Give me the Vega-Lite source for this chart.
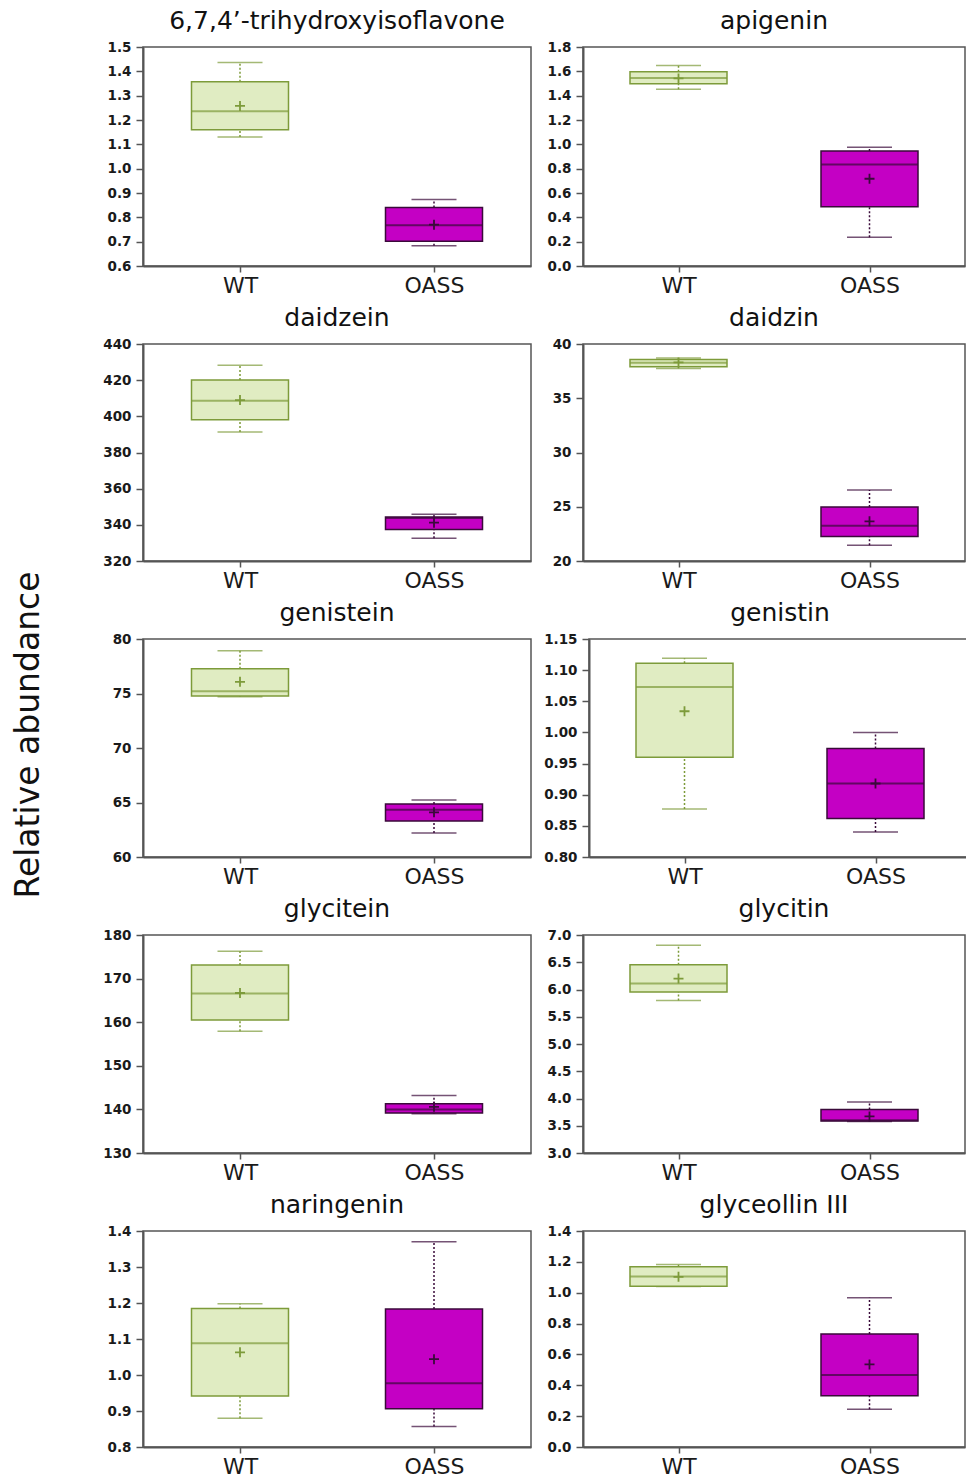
{
  "$schema": "https://vega.github.io/schema/vega-lite/v6.json",
  "background": "white",
  "padding": {"left": 13, "top": 8, "right": 0, "bottom": 0},
  "spacing": 8,
  "title": {"text": "Relative abundance", "orient": "left", "anchor": "middle", "font": "DejaVu Sans", "fontSize": 33, "fontWeight": "normal", "color": "#111", "offset": 56, "dx": 8},
  "datasets": {
    "stats": [
      {"compound": "6,7,4’-trihydroxyisoflavone", "group": "WT", "lower": 1.13, "q1": 1.16, "median": 1.236, "q3": 1.357, "upper": 1.436, "mean": 1.258},
      {"compound": "6,7,4’-trihydroxyisoflavone", "group": "OASS", "lower": 0.683, "q1": 0.702, "median": 0.767, "q3": 0.84, "upper": 0.873, "mean": 0.77},
      {"compound": "apigenin", "group": "WT", "lower": 1.453, "q1": 1.497, "median": 1.546, "q3": 1.596, "upper": 1.648, "mean": 1.542},
      {"compound": "apigenin", "group": "OASS", "lower": 0.237, "q1": 0.488, "median": 0.835, "q3": 0.945, "upper": 0.976, "mean": 0.717},
      {"compound": "daidzein", "group": "WT", "lower": 391.3, "q1": 398.1, "median": 408.6, "q3": 420.1, "upper": 428.2, "mean": 409.0},
      {"compound": "daidzein", "group": "OASS", "lower": 332.6, "q1": 337.4, "median": 343.8, "q3": 344.4, "upper": 345.9, "mean": 341.2},
      {"compound": "daidzin", "group": "WT", "lower": 37.75, "q1": 37.9, "median": 38.28, "q3": 38.58, "upper": 38.71, "mean": 38.3},
      {"compound": "daidzin", "group": "OASS", "lower": 21.45, "q1": 22.25, "median": 23.26, "q3": 24.98, "upper": 26.55, "mean": 23.66},
      {"compound": "genistein", "group": "WT", "lower": 74.7, "q1": 74.78, "median": 75.21, "q3": 77.27, "upper": 78.92, "mean": 76.07},
      {"compound": "genistein", "group": "OASS", "lower": 62.2, "q1": 63.3, "median": 64.34, "q3": 64.86, "upper": 65.23, "mean": 64.1},
      {"compound": "genistin", "group": "WT", "lower": 0.877, "q1": 0.96, "median": 1.073, "q3": 1.111, "upper": 1.119, "mean": 1.034},
      {"compound": "genistin", "group": "OASS", "lower": 0.84, "q1": 0.862, "median": 0.918, "q3": 0.974, "upper": 1.0, "mean": 0.918},
      {"compound": "glycitein", "group": "WT", "lower": 157.9, "q1": 160.5, "median": 166.6, "q3": 173.1, "upper": 176.3, "mean": 166.7},
      {"compound": "glycitein", "group": "OASS", "lower": 139.0, "q1": 139.2, "median": 140.0, "q3": 141.3, "upper": 143.2, "mean": 140.6},
      {"compound": "glycitin", "group": "WT", "lower": 5.797, "q1": 5.956, "median": 6.108, "q3": 6.456, "upper": 6.81, "mean": 6.2},
      {"compound": "glycitin", "group": "OASS", "lower": 3.58, "q1": 3.585, "median": 3.6, "q3": 3.8, "upper": 3.934, "mean": 3.672},
      {"compound": "naringenin", "group": "WT", "lower": 0.88, "q1": 0.942, "median": 1.088, "q3": 1.185, "upper": 1.198, "mean": 1.063},
      {"compound": "naringenin", "group": "OASS", "lower": 0.857, "q1": 0.906, "median": 0.977, "q3": 1.183, "upper": 1.37, "mean": 1.044},
      {"compound": "glyceollin III", "group": "WT", "lower": 1.04, "q1": 1.042, "median": 1.105, "q3": 1.168, "upper": 1.183, "mean": 1.103},
      {"compound": "glyceollin III", "group": "OASS", "lower": 0.245, "q1": 0.332, "median": 0.466, "q3": 0.733, "upper": 0.967, "mean": 0.535}
    ]
  },
  "config": {
    "font": "DejaVu Sans",
    "view": {"stroke": "#555", "strokeWidth": 1.5},
    "title": {"font": "DejaVu Sans", "fontSize": 25, "fontWeight": "normal", "color": "#111", "anchor": "middle", "offset": 6},
    "axis": {"grid": false, "domainColor": "#555", "domainWidth": 2, "tickColor": "#555", "tickWidth": 1.5, "labelFont": "DejaVu Sans", "labelColor": "#1a1a1a", "labelOverlap": false},
    "axisY": {"labelFontWeight": "bold", "labelFontSize": 13.5, "tickSize": 7, "labelPadding": 5, "minExtent": 40, "maxExtent": 40, "labelOverlap": false, "tickCount": 20},
    "axisX": {"labelFontSize": 22, "labelAngle": 0, "tickSize": 6, "labelPadding": 3}
  },
  "vconcat": [
    {"spacing": 10, "hconcat": [
      {"title": "6,7,4’-trihydroxyisoflavone", "width": 388, "height": 219, "data": {"name": "stats"},
       "transform": [{"filter": {"field": "compound", "equal": "6,7,4’-trihydroxyisoflavone"}}],
       "encoding": {"x": {"field": "group", "type": "nominal", "sort": ["WT", "OASS"], "scale": {"type": "point", "padding": 0.5}, "title": null}},
       "layer": [
        {"mark": {"type": "rule", "strokeDash": [2, 2], "strokeWidth": 1.5}, "encoding": {"y": {"field": "lower", "type": "quantitative", "title": null, "scale": {"domain": [0.6, 1.5], "nice": false, "zero": false}, "axis": {"values": [0.6, 0.7, 0.8, 0.9, 1.0, 1.1, 1.2, 1.3, 1.4, 1.5], "tickCount": 20, "format": ".1f"}}, "y2": {"field": "q1"}, "color": {"field": "group", "type": "nominal", "scale": {"domain": ["WT", "OASS"], "range": ["#7d9b3a", "#3a0a3a"]}, "legend": null}}},
        {"mark": {"type": "rule", "strokeDash": [2, 2], "strokeWidth": 1.5}, "encoding": {"y": {"field": "q3", "type": "quantitative", "title": null}, "y2": {"field": "upper"}, "color": {"field": "group", "type": "nominal", "legend": null}}},
        {"mark": {"type": "tick", "size": 45, "thickness": 1.5}, "encoding": {"y": {"field": "lower", "type": "quantitative", "title": null}, "color": {"field": "group", "type": "nominal", "legend": null}}},
        {"mark": {"type": "tick", "size": 45, "thickness": 1.5}, "encoding": {"y": {"field": "upper", "type": "quantitative", "title": null}, "color": {"field": "group", "type": "nominal", "legend": null}}},
        {"mark": {"type": "bar", "size": 97, "strokeWidth": 1.5}, "encoding": {"y": {"field": "q1", "type": "quantitative", "title": null}, "y2": {"field": "q3"}, "fill": {"field": "group", "type": "nominal", "scale": {"domain": ["WT", "OASS"], "range": ["#e0ecc2", "#c400c4"]}, "legend": null}, "stroke": {"field": "group", "type": "nominal", "scale": {"domain": ["WT", "OASS"], "range": ["#7d9b3a", "#3a0a3a"]}, "legend": null}}},
        {"mark": {"type": "tick", "size": 97, "thickness": 2}, "encoding": {"y": {"field": "median", "type": "quantitative", "title": null}, "color": {"field": "group", "type": "nominal", "legend": null}}},
        {"mark": {"type": "point", "shape": "M-1,0H1M0,-1V1", "size": 100, "filled": false, "strokeWidth": 1.8, "opacity": 1}, "encoding": {"y": {"field": "mean", "type": "quantitative", "title": null}, "color": {"field": "group", "type": "nominal", "legend": null}}}
       ]},
      {"title": "apigenin", "width": 382, "height": 219, "data": {"name": "stats"},
       "transform": [{"filter": {"field": "compound", "equal": "apigenin"}}],
       "encoding": {"x": {"field": "group", "type": "nominal", "sort": ["WT", "OASS"], "scale": {"type": "point", "padding": 0.5}, "title": null}},
       "layer": [
        {"mark": {"type": "rule", "strokeDash": [2, 2], "strokeWidth": 1.5}, "encoding": {"y": {"field": "lower", "type": "quantitative", "title": null, "scale": {"domain": [0, 1.8], "nice": false, "zero": false}, "axis": {"values": [0, 0.2, 0.4, 0.6, 0.8, 1.0, 1.2, 1.4, 1.6, 1.8], "tickCount": 20, "format": ".1f"}}, "y2": {"field": "q1"}, "color": {"field": "group", "type": "nominal", "scale": {"domain": ["WT", "OASS"], "range": ["#7d9b3a", "#3a0a3a"]}, "legend": null}}},
        {"mark": {"type": "rule", "strokeDash": [2, 2], "strokeWidth": 1.5}, "encoding": {"y": {"field": "q3", "type": "quantitative", "title": null}, "y2": {"field": "upper"}, "color": {"field": "group", "type": "nominal", "legend": null}}},
        {"mark": {"type": "tick", "size": 45, "thickness": 1.5}, "encoding": {"y": {"field": "lower", "type": "quantitative", "title": null}, "color": {"field": "group", "type": "nominal", "legend": null}}},
        {"mark": {"type": "tick", "size": 45, "thickness": 1.5}, "encoding": {"y": {"field": "upper", "type": "quantitative", "title": null}, "color": {"field": "group", "type": "nominal", "legend": null}}},
        {"mark": {"type": "bar", "size": 97, "strokeWidth": 1.5}, "encoding": {"y": {"field": "q1", "type": "quantitative", "title": null}, "y2": {"field": "q3"}, "fill": {"field": "group", "type": "nominal", "scale": {"domain": ["WT", "OASS"], "range": ["#d6e4b6", "#c400c4"]}, "legend": null}, "stroke": {"field": "group", "type": "nominal", "scale": {"domain": ["WT", "OASS"], "range": ["#7d9b3a", "#3a0a3a"]}, "legend": null}}},
        {"mark": {"type": "tick", "size": 97, "thickness": 2}, "encoding": {"y": {"field": "median", "type": "quantitative", "title": null}, "color": {"field": "group", "type": "nominal", "legend": null}}},
        {"mark": {"type": "point", "shape": "M-1,0H1M0,-1V1", "size": 100, "filled": false, "strokeWidth": 1.8, "opacity": 1}, "encoding": {"y": {"field": "mean", "type": "quantitative", "title": null}, "color": {"field": "group", "type": "nominal", "legend": null}}}
       ]}
    ]},
    {"spacing": 10, "hconcat": [
      {"title": "daidzein", "width": 388, "height": 217, "data": {"name": "stats"},
       "transform": [{"filter": {"field": "compound", "equal": "daidzein"}}],
       "encoding": {"x": {"field": "group", "type": "nominal", "sort": ["WT", "OASS"], "scale": {"type": "point", "padding": 0.5}, "title": null}},
       "layer": [
        {"mark": {"type": "rule", "strokeDash": [2, 2], "strokeWidth": 1.5}, "encoding": {"y": {"field": "lower", "type": "quantitative", "title": null, "scale": {"domain": [320, 440], "nice": false, "zero": false}, "axis": {"values": [320, 340, 360, 380, 400, 420, 440], "tickCount": 20, "format": "d"}}, "y2": {"field": "q1"}, "color": {"field": "group", "type": "nominal", "scale": {"domain": ["WT", "OASS"], "range": ["#7d9b3a", "#3a0a3a"]}, "legend": null}}},
        {"mark": {"type": "rule", "strokeDash": [2, 2], "strokeWidth": 1.5}, "encoding": {"y": {"field": "q3", "type": "quantitative", "title": null}, "y2": {"field": "upper"}, "color": {"field": "group", "type": "nominal", "legend": null}}},
        {"mark": {"type": "tick", "size": 45, "thickness": 1.5}, "encoding": {"y": {"field": "lower", "type": "quantitative", "title": null}, "color": {"field": "group", "type": "nominal", "legend": null}}},
        {"mark": {"type": "tick", "size": 45, "thickness": 1.5}, "encoding": {"y": {"field": "upper", "type": "quantitative", "title": null}, "color": {"field": "group", "type": "nominal", "legend": null}}},
        {"mark": {"type": "bar", "size": 97, "strokeWidth": 1.5}, "encoding": {"y": {"field": "q1", "type": "quantitative", "title": null}, "y2": {"field": "q3"}, "fill": {"field": "group", "type": "nominal", "scale": {"domain": ["WT", "OASS"], "range": ["#d3dcb3", "#c400c4"]}, "legend": null}, "stroke": {"field": "group", "type": "nominal", "scale": {"domain": ["WT", "OASS"], "range": ["#7d9b3a", "#3a0a3a"]}, "legend": null}}},
        {"mark": {"type": "tick", "size": 97, "thickness": 2}, "encoding": {"y": {"field": "median", "type": "quantitative", "title": null}, "color": {"field": "group", "type": "nominal", "legend": null}}},
        {"mark": {"type": "point", "shape": "M-1,0H1M0,-1V1", "size": 100, "filled": false, "strokeWidth": 1.8, "opacity": 1}, "encoding": {"y": {"field": "mean", "type": "quantitative", "title": null}, "color": {"field": "group", "type": "nominal", "legend": null}}}
       ]},
      {"title": "daidzin", "width": 382, "height": 217, "data": {"name": "stats"},
       "transform": [{"filter": {"field": "compound", "equal": "daidzin"}}],
       "encoding": {"x": {"field": "group", "type": "nominal", "sort": ["WT", "OASS"], "scale": {"type": "point", "padding": 0.5}, "title": null}},
       "layer": [
        {"mark": {"type": "rule", "strokeDash": [2, 2], "strokeWidth": 1.5}, "encoding": {"y": {"field": "lower", "type": "quantitative", "title": null, "scale": {"domain": [20, 40], "nice": false, "zero": false}, "axis": {"values": [20, 25, 30, 35, 40], "tickCount": 20, "format": "d"}}, "y2": {"field": "q1"}, "color": {"field": "group", "type": "nominal", "scale": {"domain": ["WT", "OASS"], "range": ["#7d9b3a", "#3a0a3a"]}, "legend": null}}},
        {"mark": {"type": "rule", "strokeDash": [2, 2], "strokeWidth": 1.5}, "encoding": {"y": {"field": "q3", "type": "quantitative", "title": null}, "y2": {"field": "upper"}, "color": {"field": "group", "type": "nominal", "legend": null}}},
        {"mark": {"type": "tick", "size": 45, "thickness": 1.5}, "encoding": {"y": {"field": "lower", "type": "quantitative", "title": null}, "color": {"field": "group", "type": "nominal", "legend": null}}},
        {"mark": {"type": "tick", "size": 45, "thickness": 1.5}, "encoding": {"y": {"field": "upper", "type": "quantitative", "title": null}, "color": {"field": "group", "type": "nominal", "legend": null}}},
        {"mark": {"type": "bar", "size": 97, "strokeWidth": 1.5}, "encoding": {"y": {"field": "q1", "type": "quantitative", "title": null}, "y2": {"field": "q3"}, "fill": {"field": "group", "type": "nominal", "scale": {"domain": ["WT", "OASS"], "range": ["#cfe0a8", "#c400c4"]}, "legend": null}, "stroke": {"field": "group", "type": "nominal", "scale": {"domain": ["WT", "OASS"], "range": ["#7d9b3a", "#3a0a3a"]}, "legend": null}}},
        {"mark": {"type": "tick", "size": 97, "thickness": 2}, "encoding": {"y": {"field": "median", "type": "quantitative", "title": null}, "color": {"field": "group", "type": "nominal", "legend": null}}},
        {"mark": {"type": "point", "shape": "M-1,0H1M0,-1V1", "size": 100, "filled": false, "strokeWidth": 1.8, "opacity": 1}, "encoding": {"y": {"field": "mean", "type": "quantitative", "title": null}, "color": {"field": "group", "type": "nominal", "legend": null}}}
       ]}
    ]},
    {"spacing": 10, "hconcat": [
      {"title": "genistein", "width": 388, "height": 218, "data": {"name": "stats"},
       "transform": [{"filter": {"field": "compound", "equal": "genistein"}}],
       "encoding": {"x": {"field": "group", "type": "nominal", "sort": ["WT", "OASS"], "scale": {"type": "point", "padding": 0.5}, "title": null}},
       "layer": [
        {"mark": {"type": "rule", "strokeDash": [2, 2], "strokeWidth": 1.5}, "encoding": {"y": {"field": "lower", "type": "quantitative", "title": null, "scale": {"domain": [60, 80], "nice": false, "zero": false}, "axis": {"values": [60, 65, 70, 75, 80], "tickCount": 20, "format": "d"}}, "y2": {"field": "q1"}, "color": {"field": "group", "type": "nominal", "scale": {"domain": ["WT", "OASS"], "range": ["#7d9b3a", "#3a0a3a"]}, "legend": null}}},
        {"mark": {"type": "rule", "strokeDash": [2, 2], "strokeWidth": 1.5}, "encoding": {"y": {"field": "q3", "type": "quantitative", "title": null}, "y2": {"field": "upper"}, "color": {"field": "group", "type": "nominal", "legend": null}}},
        {"mark": {"type": "tick", "size": 45, "thickness": 1.5}, "encoding": {"y": {"field": "lower", "type": "quantitative", "title": null}, "color": {"field": "group", "type": "nominal", "legend": null}}},
        {"mark": {"type": "tick", "size": 45, "thickness": 1.5}, "encoding": {"y": {"field": "upper", "type": "quantitative", "title": null}, "color": {"field": "group", "type": "nominal", "legend": null}}},
        {"mark": {"type": "bar", "size": 97, "strokeWidth": 1.5}, "encoding": {"y": {"field": "q1", "type": "quantitative", "title": null}, "y2": {"field": "q3"}, "fill": {"field": "group", "type": "nominal", "scale": {"domain": ["WT", "OASS"], "range": ["#d4ddb4", "#c400c4"]}, "legend": null}, "stroke": {"field": "group", "type": "nominal", "scale": {"domain": ["WT", "OASS"], "range": ["#7d9b3a", "#3a0a3a"]}, "legend": null}}},
        {"mark": {"type": "tick", "size": 97, "thickness": 2}, "encoding": {"y": {"field": "median", "type": "quantitative", "title": null}, "color": {"field": "group", "type": "nominal", "legend": null}}},
        {"mark": {"type": "point", "shape": "M-1,0H1M0,-1V1", "size": 100, "filled": false, "strokeWidth": 1.8, "opacity": 1}, "encoding": {"y": {"field": "mean", "type": "quantitative", "title": null}, "color": {"field": "group", "type": "nominal", "legend": null}}}
       ]},
      {"title": "genistin", "width": 382, "height": 218, "data": {"name": "stats"},
       "transform": [{"filter": {"field": "compound", "equal": "genistin"}}],
       "encoding": {"x": {"field": "group", "type": "nominal", "sort": ["WT", "OASS"], "scale": {"type": "point", "padding": 0.5}, "title": null}},
       "layer": [
        {"mark": {"type": "rule", "strokeDash": [2, 2], "strokeWidth": 1.5}, "encoding": {"y": {"field": "lower", "type": "quantitative", "title": null, "scale": {"domain": [0.8, 1.15], "nice": false, "zero": false}, "axis": {"values": [0.8, 0.85, 0.9, 0.95, 1.0, 1.05, 1.1, 1.15], "tickCount": 20, "format": ".2f"}}, "y2": {"field": "q1"}, "color": {"field": "group", "type": "nominal", "scale": {"domain": ["WT", "OASS"], "range": ["#7d9b3a", "#3a0a3a"]}, "legend": null}}},
        {"mark": {"type": "rule", "strokeDash": [2, 2], "strokeWidth": 1.5}, "encoding": {"y": {"field": "q3", "type": "quantitative", "title": null}, "y2": {"field": "upper"}, "color": {"field": "group", "type": "nominal", "legend": null}}},
        {"mark": {"type": "tick", "size": 45, "thickness": 1.5}, "encoding": {"y": {"field": "lower", "type": "quantitative", "title": null}, "color": {"field": "group", "type": "nominal", "legend": null}}},
        {"mark": {"type": "tick", "size": 45, "thickness": 1.5}, "encoding": {"y": {"field": "upper", "type": "quantitative", "title": null}, "color": {"field": "group", "type": "nominal", "legend": null}}},
        {"mark": {"type": "bar", "size": 97, "strokeWidth": 1.5}, "encoding": {"y": {"field": "q1", "type": "quantitative", "title": null}, "y2": {"field": "q3"}, "fill": {"field": "group", "type": "nominal", "scale": {"domain": ["WT", "OASS"], "range": ["#d3dbb3", "#c400c4"]}, "legend": null}, "stroke": {"field": "group", "type": "nominal", "scale": {"domain": ["WT", "OASS"], "range": ["#7d9b3a", "#3a0a3a"]}, "legend": null}}},
        {"mark": {"type": "tick", "size": 97, "thickness": 2}, "encoding": {"y": {"field": "median", "type": "quantitative", "title": null}, "color": {"field": "group", "type": "nominal", "legend": null}}},
        {"mark": {"type": "point", "shape": "M-1,0H1M0,-1V1", "size": 100, "filled": false, "strokeWidth": 1.8, "opacity": 1}, "encoding": {"y": {"field": "mean", "type": "quantitative", "title": null}, "color": {"field": "group", "type": "nominal", "legend": null}}}
       ]}
    ]},
    {"spacing": 10, "hconcat": [
      {"title": "glycitein", "width": 388, "height": 218, "data": {"name": "stats"},
       "transform": [{"filter": {"field": "compound", "equal": "glycitein"}}],
       "encoding": {"x": {"field": "group", "type": "nominal", "sort": ["WT", "OASS"], "scale": {"type": "point", "padding": 0.5}, "title": null}},
       "layer": [
        {"mark": {"type": "rule", "strokeDash": [2, 2], "strokeWidth": 1.5}, "encoding": {"y": {"field": "lower", "type": "quantitative", "title": null, "scale": {"domain": [130, 180], "nice": false, "zero": false}, "axis": {"values": [130, 140, 150, 160, 170, 180], "tickCount": 20, "format": "d"}}, "y2": {"field": "q1"}, "color": {"field": "group", "type": "nominal", "scale": {"domain": ["WT", "OASS"], "range": ["#7d9b3a", "#3a0a3a"]}, "legend": null}}},
        {"mark": {"type": "rule", "strokeDash": [2, 2], "strokeWidth": 1.5}, "encoding": {"y": {"field": "q3", "type": "quantitative", "title": null}, "y2": {"field": "upper"}, "color": {"field": "group", "type": "nominal", "legend": null}}},
        {"mark": {"type": "tick", "size": 45, "thickness": 1.5}, "encoding": {"y": {"field": "lower", "type": "quantitative", "title": null}, "color": {"field": "group", "type": "nominal", "legend": null}}},
        {"mark": {"type": "tick", "size": 45, "thickness": 1.5}, "encoding": {"y": {"field": "upper", "type": "quantitative", "title": null}, "color": {"field": "group", "type": "nominal", "legend": null}}},
        {"mark": {"type": "bar", "size": 97, "strokeWidth": 1.5}, "encoding": {"y": {"field": "q1", "type": "quantitative", "title": null}, "y2": {"field": "q3"}, "fill": {"field": "group", "type": "nominal", "scale": {"domain": ["WT", "OASS"], "range": ["#d1daae", "#c400c4"]}, "legend": null}, "stroke": {"field": "group", "type": "nominal", "scale": {"domain": ["WT", "OASS"], "range": ["#7d9b3a", "#3a0a3a"]}, "legend": null}}},
        {"mark": {"type": "tick", "size": 97, "thickness": 2}, "encoding": {"y": {"field": "median", "type": "quantitative", "title": null}, "color": {"field": "group", "type": "nominal", "legend": null}}},
        {"mark": {"type": "point", "shape": "M-1,0H1M0,-1V1", "size": 100, "filled": false, "strokeWidth": 1.8, "opacity": 1}, "encoding": {"y": {"field": "mean", "type": "quantitative", "title": null}, "color": {"field": "group", "type": "nominal", "legend": null}}}
       ]},
      {"title": {"text": "glycitin", "dx": 10}, "width": 382, "height": 218, "data": {"name": "stats"},
       "transform": [{"filter": {"field": "compound", "equal": "glycitin"}}],
       "encoding": {"x": {"field": "group", "type": "nominal", "sort": ["WT", "OASS"], "scale": {"type": "point", "padding": 0.5}, "title": null}},
       "layer": [
        {"mark": {"type": "rule", "strokeDash": [2, 2], "strokeWidth": 1.5}, "encoding": {"y": {"field": "lower", "type": "quantitative", "title": null, "scale": {"domain": [3, 7], "nice": false, "zero": false}, "axis": {"values": [3, 3.5, 4, 4.5, 5, 5.5, 6, 6.5, 7], "tickCount": 20, "format": ".1f"}}, "y2": {"field": "q1"}, "color": {"field": "group", "type": "nominal", "scale": {"domain": ["WT", "OASS"], "range": ["#7d9b3a", "#3a0a3a"]}, "legend": null}}},
        {"mark": {"type": "rule", "strokeDash": [2, 2], "strokeWidth": 1.5}, "encoding": {"y": {"field": "q3", "type": "quantitative", "title": null}, "y2": {"field": "upper"}, "color": {"field": "group", "type": "nominal", "legend": null}}},
        {"mark": {"type": "tick", "size": 45, "thickness": 1.5}, "encoding": {"y": {"field": "lower", "type": "quantitative", "title": null}, "color": {"field": "group", "type": "nominal", "legend": null}}},
        {"mark": {"type": "tick", "size": 45, "thickness": 1.5}, "encoding": {"y": {"field": "upper", "type": "quantitative", "title": null}, "color": {"field": "group", "type": "nominal", "legend": null}}},
        {"mark": {"type": "bar", "size": 97, "strokeWidth": 1.5}, "encoding": {"y": {"field": "q1", "type": "quantitative", "title": null}, "y2": {"field": "q3"}, "fill": {"field": "group", "type": "nominal", "scale": {"domain": ["WT", "OASS"], "range": ["#d3dcb3", "#c400c4"]}, "legend": null}, "stroke": {"field": "group", "type": "nominal", "scale": {"domain": ["WT", "OASS"], "range": ["#7d9b3a", "#3a0a3a"]}, "legend": null}}},
        {"mark": {"type": "tick", "size": 97, "thickness": 2}, "encoding": {"y": {"field": "median", "type": "quantitative", "title": null}, "color": {"field": "group", "type": "nominal", "legend": null}}},
        {"mark": {"type": "point", "shape": "M-1,0H1M0,-1V1", "size": 100, "filled": false, "strokeWidth": 1.8, "opacity": 1}, "encoding": {"y": {"field": "mean", "type": "quantitative", "title": null}, "color": {"field": "group", "type": "nominal", "legend": null}}}
       ]}
    ]},
    {"spacing": 10, "hconcat": [
      {"title": "naringenin", "width": 388, "height": 216, "data": {"name": "stats"},
       "transform": [{"filter": {"field": "compound", "equal": "naringenin"}}],
       "encoding": {"x": {"field": "group", "type": "nominal", "sort": ["WT", "OASS"], "scale": {"type": "point", "padding": 0.5}, "title": null}},
       "layer": [
        {"mark": {"type": "rule", "strokeDash": [2, 2], "strokeWidth": 1.5}, "encoding": {"y": {"field": "lower", "type": "quantitative", "title": null, "scale": {"domain": [0.8, 1.4], "nice": false, "zero": false}, "axis": {"values": [0.8, 0.9, 1.0, 1.1, 1.2, 1.3, 1.4], "tickCount": 20, "format": ".1f"}}, "y2": {"field": "q1"}, "color": {"field": "group", "type": "nominal", "scale": {"domain": ["WT", "OASS"], "range": ["#7d9b3a", "#3a0a3a"]}, "legend": null}}},
        {"mark": {"type": "rule", "strokeDash": [2, 2], "strokeWidth": 1.5}, "encoding": {"y": {"field": "q3", "type": "quantitative", "title": null}, "y2": {"field": "upper"}, "color": {"field": "group", "type": "nominal", "legend": null}}},
        {"mark": {"type": "tick", "size": 45, "thickness": 1.5}, "encoding": {"y": {"field": "lower", "type": "quantitative", "title": null}, "color": {"field": "group", "type": "nominal", "legend": null}}},
        {"mark": {"type": "tick", "size": 45, "thickness": 1.5}, "encoding": {"y": {"field": "upper", "type": "quantitative", "title": null}, "color": {"field": "group", "type": "nominal", "legend": null}}},
        {"mark": {"type": "bar", "size": 97, "strokeWidth": 1.5}, "encoding": {"y": {"field": "q1", "type": "quantitative", "title": null}, "y2": {"field": "q3"}, "fill": {"field": "group", "type": "nominal", "scale": {"domain": ["WT", "OASS"], "range": ["#dbe4bf", "#c400c4"]}, "legend": null}, "stroke": {"field": "group", "type": "nominal", "scale": {"domain": ["WT", "OASS"], "range": ["#7d9b3a", "#3a0a3a"]}, "legend": null}}},
        {"mark": {"type": "tick", "size": 97, "thickness": 2}, "encoding": {"y": {"field": "median", "type": "quantitative", "title": null}, "color": {"field": "group", "type": "nominal", "legend": null}}},
        {"mark": {"type": "point", "shape": "M-1,0H1M0,-1V1", "size": 100, "filled": false, "strokeWidth": 1.8, "opacity": 1}, "encoding": {"y": {"field": "mean", "type": "quantitative", "title": null}, "color": {"field": "group", "type": "nominal", "legend": null}}}
       ]},
      {"title": "glyceollin  III", "width": 382, "height": 216, "data": {"name": "stats"},
       "transform": [{"filter": {"field": "compound", "equal": "glyceollin III"}}],
       "encoding": {"x": {"field": "group", "type": "nominal", "sort": ["WT", "OASS"], "scale": {"type": "point", "padding": 0.5}, "title": null}},
       "layer": [
        {"mark": {"type": "rule", "strokeDash": [2, 2], "strokeWidth": 1.5}, "encoding": {"y": {"field": "lower", "type": "quantitative", "title": null, "scale": {"domain": [0, 1.4], "nice": false, "zero": false}, "axis": {"values": [0, 0.2, 0.4, 0.6, 0.8, 1.0, 1.2, 1.4], "tickCount": 20, "format": ".1f"}}, "y2": {"field": "q1"}, "color": {"field": "group", "type": "nominal", "scale": {"domain": ["WT", "OASS"], "range": ["#7d9b3a", "#3a0a3a"]}, "legend": null}}},
        {"mark": {"type": "rule", "strokeDash": [2, 2], "strokeWidth": 1.5}, "encoding": {"y": {"field": "q3", "type": "quantitative", "title": null}, "y2": {"field": "upper"}, "color": {"field": "group", "type": "nominal", "legend": null}}},
        {"mark": {"type": "tick", "size": 45, "thickness": 1.5}, "encoding": {"y": {"field": "lower", "type": "quantitative", "title": null}, "color": {"field": "group", "type": "nominal", "legend": null}}},
        {"mark": {"type": "tick", "size": 45, "thickness": 1.5}, "encoding": {"y": {"field": "upper", "type": "quantitative", "title": null}, "color": {"field": "group", "type": "nominal", "legend": null}}},
        {"mark": {"type": "bar", "size": 97, "strokeWidth": 1.5}, "encoding": {"y": {"field": "q1", "type": "quantitative", "title": null}, "y2": {"field": "q3"}, "fill": {"field": "group", "type": "nominal", "scale": {"domain": ["WT", "OASS"], "range": ["#d6e4b6", "#c400c4"]}, "legend": null}, "stroke": {"field": "group", "type": "nominal", "scale": {"domain": ["WT", "OASS"], "range": ["#7d9b3a", "#3a0a3a"]}, "legend": null}}},
        {"mark": {"type": "tick", "size": 97, "thickness": 2}, "encoding": {"y": {"field": "median", "type": "quantitative", "title": null}, "color": {"field": "group", "type": "nominal", "legend": null}}},
        {"mark": {"type": "point", "shape": "M-1,0H1M0,-1V1", "size": 100, "filled": false, "strokeWidth": 1.8, "opacity": 1}, "encoding": {"y": {"field": "mean", "type": "quantitative", "title": null}, "color": {"field": "group", "type": "nominal", "legend": null}}}
       ]}
    ]}
  ]
}
